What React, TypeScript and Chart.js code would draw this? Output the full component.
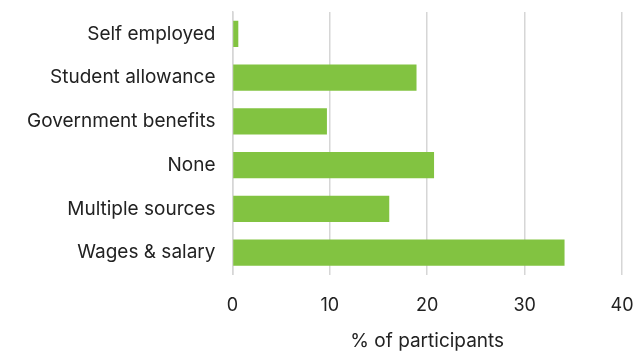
import React, { useEffect, useRef } from "react";
import { Chart, registerables } from "chart.js";

Chart.register(...registerables);

const categories = [
  "Self employed",
  "Student allowance",
  "Government benefits",
  "None",
  "Multiple sources",
  "Wages & salary",
];
const values = [0.6, 18.9, 9.7, 20.7, 16.1, 34.1];
const xTicks = [0, 10, 20, 30, 40];
const axisTitle = "% of participants";

export default function App() {
  const ref = useRef<HTMLCanvasElement | null>(null);
  useEffect(() => {
    document.body.style.margin = "0";
    if (!ref.current) return;
    const chart = new Chart(ref.current, {
      type: "bar",
      data: {
        labels: categories,
        datasets: [
          {
            data: values,
            backgroundColor: "#82c341",
            borderWidth: 0,
            barPercentage: 0.6,
            categoryPercentage: 1,
          },
        ],
      },
      options: {
        indexAxis: "y",
        animation: false,
        responsive: false,
        maintainAspectRatio: false,
        layout: { padding: { top: 12, right: 0, left: 10, bottom: 0 } },
        plugins: { legend: { display: false }, tooltip: { enabled: false } },
        scales: {
          x: {
            min: xTicks[0],
            max: xTicks[xTicks.length - 1],
            afterBuildTicks: (axis: any) => {
              axis.ticks = xTicks.map((v) => ({ value: v }));
            },
            afterFit: (scale: any) => {
              scale.paddingLeft = 0;
              scale.paddingRight = 18;
            },
            grid: { color: "#d6d6d6", lineWidth: 1.5, drawTicks: false },
            border: { display: false },
            ticks: {
              color: "#222",
              font: { family: "Inter", size: 18 },
              padding: 20,
            },
            title: {
              display: true,
              text: axisTitle,
              color: "#222",
              font: { family: "Inter", size: 19 },
              padding: { top: -6, bottom: 0 },
            },
          },
          y: {
            afterFit: (scale: any) => {
              scale.paddingTop = 0;
              scale.paddingBottom = 0;
            },
            grid: { display: false, drawTicks: false },
            border: { display: true, color: "#d6d6d6", width: 1.5 },
            ticks: {
              color: "#222",
              font: { family: "Inter", size: 19 },
              padding: 17,
            },
          },
        },
      },
    });
    return () => chart.destroy();
  }, []);
  return (
    <div style={{ width: 640, height: 353 }}>
      <canvas ref={ref} width={640} height={353} style={{ display: "block" }} />
    </div>
  );
}
